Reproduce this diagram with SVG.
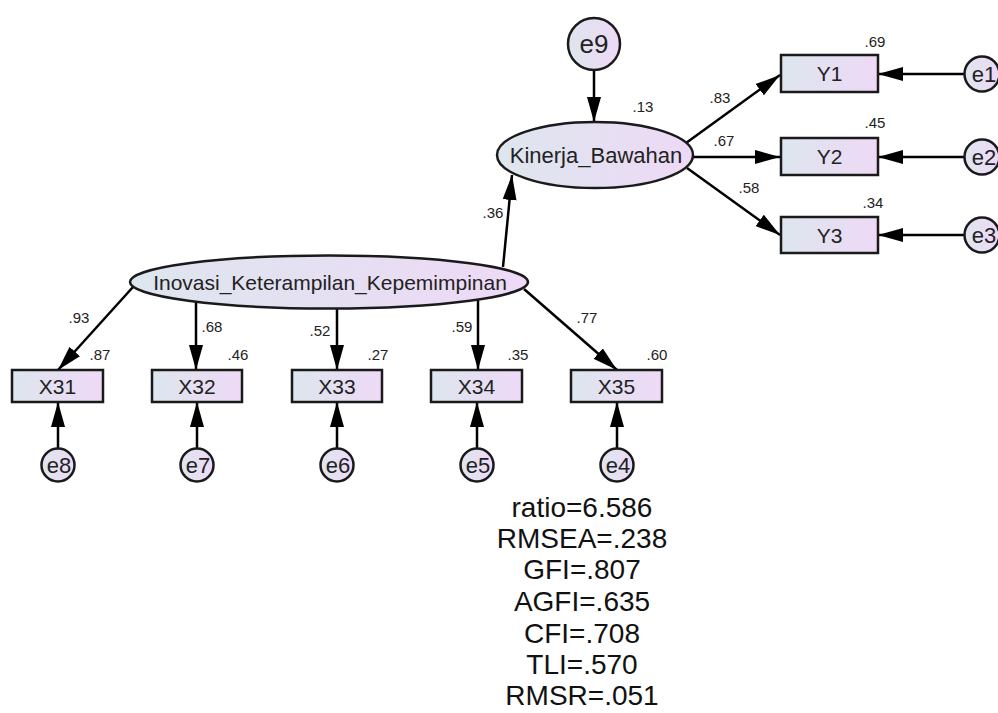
<svg xmlns="http://www.w3.org/2000/svg" width="998" height="713" viewBox="0 0 998 713">
  <defs>
    <linearGradient id="fillGrad" x1="0" y1="0" x2="1" y2="0">
      <stop offset="0" stop-color="#dde6ee"/>
      <stop offset="1" stop-color="#eed9f6"/>
    </linearGradient>
    <marker id="arrow" markerUnits="userSpaceOnUse" markerWidth="26" markerHeight="14" viewBox="0 0 26 14" refX="25" refY="7" orient="auto">
      <path d="M0,0 L25,7 L0,14 z" fill="#000"/>
    </marker>
    <style>
      .shape { fill: url(#fillGrad); stroke: #1a1a1a; stroke-width: 2.5; }
      .lbl { font-family: "Liberation Sans", Arial, sans-serif; font-size: 21px; fill: #222; text-anchor: middle; }
      .err { font-family: "Liberation Sans", Arial, sans-serif; font-size: 22px; fill: #222; text-anchor: middle; }
      .coef { font-family: "Liberation Sans", Arial, sans-serif; font-size: 15px; fill: #222; text-anchor: middle; }
      .fit { font-family: "Liberation Sans", Arial, sans-serif; font-size: 28px; fill: #111; text-anchor: middle; }
      .edge { stroke: #000; stroke-width: 2.5; fill: none; marker-end: url(#arrow); }
    </style>
  </defs>
  <rect width="998" height="713" fill="#fff"/>

  <!-- connectors -->
  <g id="connectors">
    <line class="edge" x1="594" y1="70" x2="594" y2="122"/>
    <line class="edge" x1="686" y1="143" x2="780" y2="75"/>
    <line class="edge" x1="693" y1="157" x2="780" y2="157"/>
    <line class="edge" x1="687" y1="168" x2="780" y2="235"/>
    <line class="edge" x1="964" y1="74" x2="878" y2="74"/>
    <line class="edge" x1="964" y1="157" x2="878" y2="157"/>
    <line class="edge" x1="964" y1="235" x2="878" y2="235"/>
    <line class="edge" x1="503" y1="267" x2="512" y2="175"/>
    <line class="edge" x1="133" y1="287" x2="58" y2="370"/>
    <line class="edge" x1="196" y1="302" x2="196" y2="370"/>
    <line class="edge" x1="337" y1="308" x2="337" y2="370"/>
    <line class="edge" x1="478" y1="300" x2="478" y2="370"/>
    <line class="edge" x1="524" y1="289" x2="617" y2="370"/>
    <line class="edge" x1="58" y1="448" x2="58" y2="402"/>
    <line class="edge" x1="197" y1="448" x2="197" y2="402"/>
    <line class="edge" x1="337" y1="448" x2="337" y2="402"/>
    <line class="edge" x1="477" y1="448" x2="477" y2="402"/>
    <line class="edge" x1="617" y1="448" x2="617" y2="402"/>
  </g>

  <!-- path coefficients and squared multiple correlations -->
  <g id="coefficients">
    <text class="coef" x="493" y="218">.36</text>
    <text class="coef" x="720" y="103">.83</text>
    <text class="coef" x="724" y="146">.67</text>
    <text class="coef" x="749" y="193">.58</text>
    <text class="coef" x="79" y="323">.93</text>
    <text class="coef" x="212" y="332">.68</text>
    <text class="coef" x="320" y="336">.52</text>
    <text class="coef" x="462" y="332">.59</text>
    <text class="coef" x="587" y="323">.77</text>
    <text class="coef" x="643" y="112">.13</text>
    <text class="coef" x="875" y="47">.69</text>
    <text class="coef" x="875" y="128">.45</text>
    <text class="coef" x="873" y="208">.34</text>
    <text class="coef" x="100" y="360">.87</text>
    <text class="coef" x="238" y="360">.46</text>
    <text class="coef" x="378" y="360">.27</text>
    <text class="coef" x="518" y="360">.35</text>
    <text class="coef" x="657" y="360">.60</text>
  </g>

  <!-- latent variables -->
  <g id="Kinerja_Bawahan">
    <ellipse class="shape" cx="595" cy="155" rx="98" ry="33"/>
    <text class="lbl" x="596" y="163" style="font-size:22px">Kinerja_Bawahan</text>
  </g>
  <g id="Inovasi_Keterampilan_Kepemimpinan">
    <ellipse class="shape" cx="329" cy="282" rx="199" ry="26.5"/>
    <text class="lbl" x="330" y="290">Inovasi_Keterampilan_Kepemimpinan</text>
  </g>

  <!-- error terms -->
  <g id="e9"><circle class="shape" cx="594" cy="44" r="26"/><text class="err" x="594" y="53" style="font-size:26px">e9</text></g>
  <g id="e1"><circle class="shape" cx="982" cy="74" r="17.5"/><text class="err" x="984" y="82">e1</text></g>
  <g id="e2"><circle class="shape" cx="982" cy="157" r="17.5"/><text class="err" x="984" y="165">e2</text></g>
  <g id="e3"><circle class="shape" cx="982" cy="235" r="17.5"/><text class="err" x="984" y="243">e3</text></g>
  <g id="e8"><circle class="shape" cx="58" cy="465" r="16.5"/><text class="err" x="59" y="473">e8</text></g>
  <g id="e7"><circle class="shape" cx="197" cy="465" r="16.5"/><text class="err" x="198" y="473">e7</text></g>
  <g id="e6"><circle class="shape" cx="337" cy="465" r="16.5"/><text class="err" x="338" y="473">e6</text></g>
  <g id="e5"><circle class="shape" cx="477" cy="465" r="16.5"/><text class="err" x="478" y="473">e5</text></g>
  <g id="e4"><circle class="shape" cx="617" cy="465" r="16.5"/><text class="err" x="618" y="473">e4</text></g>

  <!-- observed indicators -->
  <g id="Y1"><rect class="shape" x="781" y="55" width="97" height="37"/><text class="lbl" x="829.5" y="81">Y1</text></g>
  <g id="Y2"><rect class="shape" x="781" y="138" width="97" height="37"/><text class="lbl" x="829.5" y="164">Y2</text></g>
  <g id="Y3"><rect class="shape" x="781" y="217" width="97" height="36"/><text class="lbl" x="829.5" y="243">Y3</text></g>
  <g id="X31"><rect class="shape" x="12" y="370" width="91" height="32"/><text class="lbl" x="57.5" y="394">X31</text></g>
  <g id="X32"><rect class="shape" x="152" y="370" width="90" height="32"/><text class="lbl" x="197" y="394">X32</text></g>
  <g id="X33"><rect class="shape" x="292" y="370" width="90" height="32"/><text class="lbl" x="337" y="394">X33</text></g>
  <g id="X34"><rect class="shape" x="431" y="370" width="91" height="32"/><text class="lbl" x="476.5" y="394">X34</text></g>
  <g id="X35"><rect class="shape" x="571" y="370" width="91" height="32"/><text class="lbl" x="616.5" y="394">X35</text></g>

  <!-- model fit summary -->
  <g id="fit">
    <text class="fit" x="582" y="517">ratio=6.586</text>
    <text class="fit" x="582" y="548">RMSEA=.238</text>
    <text class="fit" x="582" y="579">GFI=.807</text>
    <text class="fit" x="582" y="611">AGFI=.635</text>
    <text class="fit" x="582" y="643">CFI=.708</text>
    <text class="fit" x="582" y="674">TLI=.570</text>
    <text class="fit" x="582" y="705">RMSR=.051</text>
  </g>
</svg>
